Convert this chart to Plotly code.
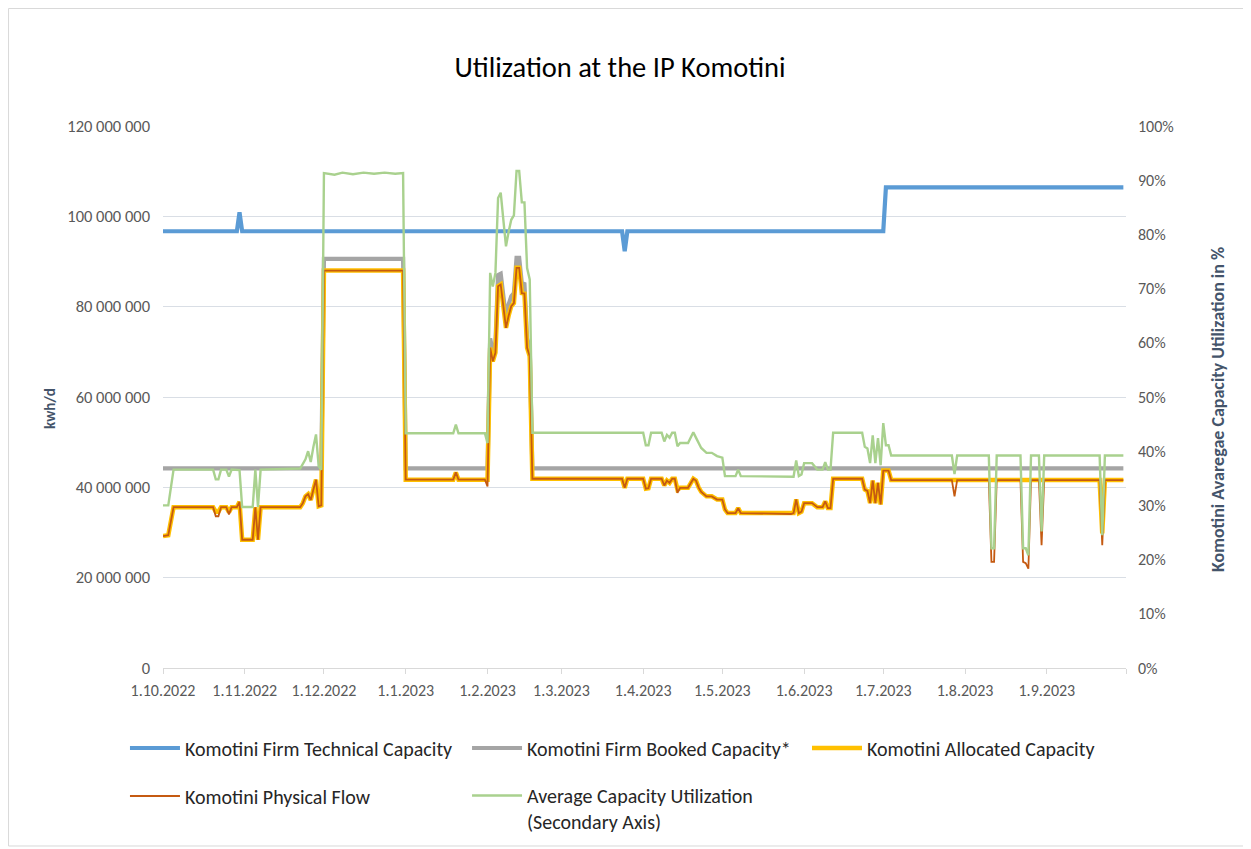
import plotly.graph_objects as go

# ---------------- data ----------------
# capacities / flows in million kWh/d, utilization in %
tech_pts = [
    ("2022-10-01", 96.7), ("2022-10-29", 96.7), ("2022-10-30", 100.9), ("2022-10-31", 96.7),
    ("2023-03-24", 96.7), ("2023-03-25", 92.3), ("2023-03-26", 96.7),
    ("2023-07-01", 96.7), ("2023-07-02", 106.4), ("2023-09-30", 106.4),
]

booked_pts = [
    ("2022-10-01", 44.2), ("2022-11-30", 44.2), ("2022-12-01", 90.6), ("2022-12-31", 90.6),
    ("2023-01-01", 44.2), ("2023-02-01", 44.2), ("2023-02-02", 73.0), ("2023-02-03", 70.0),
    ("2023-02-04", 72.0), ("2023-02-05", 87.0), ("2023-02-06", 87.3), ("2023-02-07", 82.3),
    ("2023-02-08", 77.5), ("2023-02-09", 80.5), ("2023-02-10", 82.3), ("2023-02-11", 83.0),
    ("2023-02-12", 90.8), ("2023-02-13", 90.8), ("2023-02-14", 85.2), ("2023-02-15", 85.0),
    ("2023-02-16", 73.0), ("2023-02-17", 71.0), ("2023-02-18", 44.2), ("2023-09-30", 44.2),
]

alloc_pts = [
    ("2022-10-01", 29.2), ("2022-10-03", 29.4), ("2022-10-05", 35.6), ("2022-10-20", 35.6),
    ("2022-10-21", 34.6), ("2022-10-22", 34.6), ("2022-10-23", 35.6), ("2022-10-25", 35.6),
    ("2022-10-26", 34.5), ("2022-10-27", 35.6), ("2022-10-29", 35.6), ("2022-10-30", 36.8),
    ("2022-10-31", 28.4), ("2022-11-04", 28.4), ("2022-11-05", 35.6), ("2022-11-06", 28.4),
    ("2022-11-07", 35.6), ("2022-11-22", 35.6), ("2022-11-23", 36.5), ("2022-11-24", 38.0),
    ("2022-11-25", 38.5), ("2022-11-26", 37.2), ("2022-11-27", 39.5), ("2022-11-28", 41.7),
    ("2022-11-29", 35.8), ("2022-11-30", 36.0), ("2022-12-01", 88.0), ("2022-12-31", 88.0),
    ("2023-01-01", 41.7), ("2023-01-19", 41.7), ("2023-01-20", 43.3), ("2023-01-21", 41.7),
    ("2023-02-01", 41.7), ("2023-02-02", 70.9), ("2023-02-03", 67.9), ("2023-02-04", 69.8),
    ("2023-02-05", 84.5), ("2023-02-06", 84.9), ("2023-02-07", 80.1), ("2023-02-08", 75.3),
    ("2023-02-09", 78.0), ("2023-02-10", 80.1), ("2023-02-11", 80.8), ("2023-02-12", 88.6),
    ("2023-02-13", 88.6), ("2023-02-14", 83.0), ("2023-02-15", 82.9), ("2023-02-16", 70.9),
    ("2023-02-17", 69.0), ("2023-02-18", 41.9), ("2023-03-24", 41.9), ("2023-03-25", 39.9),
    ("2023-03-26", 41.9), ("2023-04-01", 41.9), ("2023-04-02", 39.7), ("2023-04-03", 39.8),
    ("2023-04-04", 41.9), ("2023-04-08", 41.9), ("2023-04-09", 40.4), ("2023-04-10", 41.5),
    ("2023-04-11", 41.0), ("2023-04-12", 41.9), ("2023-04-13", 41.9), ("2023-04-14", 39.5),
    ("2023-04-15", 39.9), ("2023-04-18", 39.9), ("2023-04-20", 41.9), ("2023-04-21", 41.5),
    ("2023-04-22", 40.0), ("2023-04-23", 39.0), ("2023-04-25", 38.0), ("2023-04-27", 38.0),
    ("2023-04-29", 37.3), ("2023-05-01", 37.3), ("2023-05-02", 35.1), ("2023-05-03", 34.3),
    ("2023-05-06", 34.3), ("2023-05-07", 35.4), ("2023-05-08", 34.3), ("2023-05-27", 34.1),
    ("2023-05-28", 34.3), ("2023-05-29", 37.3), ("2023-05-30", 34.3), ("2023-05-31", 34.6),
    ("2023-06-01", 36.5), ("2023-06-04", 36.5), ("2023-06-06", 35.6), ("2023-06-08", 35.6),
    ("2023-06-09", 36.9), ("2023-06-10", 35.4), ("2023-06-11", 35.4), ("2023-06-12", 41.9),
    ("2023-06-23", 41.9), ("2023-06-24", 39.5), ("2023-06-25", 39.2), ("2023-06-26", 36.5),
    ("2023-06-27", 41.5), ("2023-06-28", 36.5), ("2023-06-29", 41.0), ("2023-06-30", 36.2),
    ("2023-07-01", 43.7), ("2023-07-03", 43.7), ("2023-07-04", 41.6), ("2023-09-21", 41.6),
    ("2023-09-22", 29.8), ("2023-09-23", 41.6), ("2023-09-30", 41.6),
]

flow_pts = [
    ("2022-10-01", 29.2), ("2022-10-03", 29.4), ("2022-10-05", 35.6), ("2022-10-20", 35.6),
    ("2022-10-21", 33.6), ("2022-10-22", 33.6), ("2022-10-23", 35.6), ("2022-10-25", 35.6),
    ("2022-10-26", 34.0), ("2022-10-27", 35.6), ("2022-10-29", 35.6), ("2022-10-30", 36.8),
    ("2022-10-31", 28.4), ("2022-11-04", 28.4), ("2022-11-05", 35.6), ("2022-11-06", 28.4),
    ("2022-11-07", 35.6), ("2022-11-22", 35.6), ("2022-11-23", 36.5), ("2022-11-24", 38.0),
    ("2022-11-25", 38.5), ("2022-11-26", 37.2), ("2022-11-27", 39.5), ("2022-11-28", 41.7),
    ("2022-11-29", 35.8), ("2022-11-30", 36.0), ("2022-12-01", 88.0), ("2022-12-31", 88.0),
    ("2023-01-01", 41.7), ("2023-01-19", 41.7), ("2023-01-20", 43.3), ("2023-01-21", 41.7),
    ("2023-01-31", 41.7), ("2023-02-01", 40.2), ("2023-02-02", 70.9), ("2023-02-03", 67.9),
    ("2023-02-04", 69.8), ("2023-02-05", 84.5), ("2023-02-06", 84.9), ("2023-02-07", 80.1),
    ("2023-02-08", 75.3), ("2023-02-09", 78.0), ("2023-02-10", 80.1), ("2023-02-11", 80.8),
    ("2023-02-12", 88.6), ("2023-02-13", 88.6), ("2023-02-14", 83.0), ("2023-02-15", 82.9),
    ("2023-02-16", 70.9), ("2023-02-17", 69.0), ("2023-02-18", 41.9), ("2023-03-24", 41.9),
    ("2023-03-25", 39.9), ("2023-03-26", 41.9), ("2023-04-01", 41.9), ("2023-04-02", 39.7),
    ("2023-04-03", 39.8), ("2023-04-04", 41.9), ("2023-04-08", 41.9), ("2023-04-09", 40.4),
    ("2023-04-10", 41.5), ("2023-04-11", 41.0), ("2023-04-12", 41.9), ("2023-04-13", 41.9),
    ("2023-04-14", 38.8), ("2023-04-15", 39.9), ("2023-04-18", 39.9), ("2023-04-20", 41.9),
    ("2023-04-21", 41.5), ("2023-04-22", 40.0), ("2023-04-23", 39.0), ("2023-04-25", 38.0),
    ("2023-04-27", 38.0), ("2023-04-29", 37.3), ("2023-05-01", 37.3), ("2023-05-02", 35.1),
    ("2023-05-03", 34.3), ("2023-05-06", 34.3), ("2023-05-07", 35.4), ("2023-05-08", 34.3),
    ("2023-05-27", 34.1), ("2023-05-28", 34.3), ("2023-05-29", 37.3), ("2023-05-30", 34.3),
    ("2023-05-31", 34.6), ("2023-06-01", 36.5), ("2023-06-04", 36.5), ("2023-06-06", 35.6),
    ("2023-06-08", 35.6), ("2023-06-09", 36.9), ("2023-06-10", 35.4), ("2023-06-11", 35.4),
    ("2023-06-12", 41.9), ("2023-06-23", 41.9), ("2023-06-24", 39.5), ("2023-06-25", 39.2),
    ("2023-06-26", 36.5), ("2023-06-27", 41.5), ("2023-06-28", 36.5), ("2023-06-29", 41.0),
    ("2023-06-30", 36.2), ("2023-07-01", 43.7), ("2023-07-03", 43.7), ("2023-07-04", 41.6),
    ("2023-07-27", 41.6), ("2023-07-28", 38.0), ("2023-07-29", 41.6), ("2023-08-10", 41.6),
    ("2023-08-11", 23.5), ("2023-08-12", 23.5), ("2023-08-13", 41.6), ("2023-08-22", 41.6),
    ("2023-08-23", 23.5), ("2023-08-24", 23.2), ("2023-08-25", 22.0), ("2023-08-26", 41.6),
    ("2023-08-29", 41.6), ("2023-08-30", 27.2), ("2023-08-31", 41.6), ("2023-09-21", 41.6),
    ("2023-09-22", 27.2), ("2023-09-23", 41.6), ("2023-09-30", 41.6),
]

util_pts = [
    ("2022-10-01", 30.0), ("2022-10-03", 30.0), ("2022-10-05", 36.6), ("2022-10-20", 36.6),
    ("2022-10-21", 34.8), ("2022-10-22", 34.8), ("2022-10-23", 36.6), ("2022-10-25", 36.6),
    ("2022-10-26", 35.3), ("2022-10-27", 36.6), ("2022-10-30", 36.5), ("2022-10-31", 29.7),
    ("2022-11-04", 29.7), ("2022-11-05", 36.6), ("2022-11-06", 29.7), ("2022-11-07", 36.6),
    ("2022-11-22", 36.8), ("2022-11-23", 37.8), ("2022-11-24", 38.5), ("2022-11-25", 40.0),
    ("2022-11-26", 38.0), ("2022-11-27", 40.8), ("2022-11-28", 43.1), ("2022-11-29", 37.2),
    ("2022-11-30", 36.6), ("2022-12-01", 91.3), ("2022-12-05", 91.0), ("2022-12-08", 91.4),
    ("2022-12-12", 91.1), ("2022-12-16", 91.4), ("2022-12-20", 91.2), ("2022-12-24", 91.4),
    ("2022-12-28", 91.2), ("2022-12-31", 91.3), ("2023-01-01", 43.3), ("2023-01-19", 43.3),
    ("2023-01-20", 44.9), ("2023-01-21", 43.3), ("2023-01-31", 43.3), ("2023-02-01", 41.5),
    ("2023-02-02", 72.9), ("2023-02-03", 70.4), ("2023-02-04", 72.9), ("2023-02-05", 86.7),
    ("2023-02-06", 87.7), ("2023-02-07", 82.7), ("2023-02-08", 77.8), ("2023-02-09", 80.5),
    ("2023-02-10", 82.7), ("2023-02-11", 83.5), ("2023-02-12", 91.7), ("2023-02-13", 91.7),
    ("2023-02-14", 85.9), ("2023-02-15", 85.9), ("2023-02-16", 73.8), ("2023-02-17", 71.7),
    ("2023-02-18", 43.4), ("2023-04-01", 43.4), ("2023-04-02", 41.1), ("2023-04-03", 41.1),
    ("2023-04-04", 43.4), ("2023-04-08", 43.4), ("2023-04-09", 41.8), ("2023-04-10", 43.0),
    ("2023-04-11", 42.5), ("2023-04-12", 43.4), ("2023-04-13", 43.4), ("2023-04-14", 40.9),
    ("2023-04-15", 41.5), ("2023-04-18", 41.5), ("2023-04-20", 43.5), ("2023-04-21", 42.5),
    ("2023-04-22", 41.4), ("2023-04-23", 40.6), ("2023-04-25", 39.7), ("2023-04-27", 39.7),
    ("2023-04-29", 39.1), ("2023-05-01", 38.8), ("2023-05-02", 35.4), ("2023-05-06", 35.4),
    ("2023-05-07", 36.6), ("2023-05-08", 35.4), ("2023-05-28", 35.3), ("2023-05-29", 38.3),
    ("2023-05-30", 35.4), ("2023-05-31", 35.7), ("2023-06-01", 37.8), ("2023-06-04", 37.8),
    ("2023-06-06", 36.6), ("2023-06-08", 36.6), ("2023-06-09", 38.0), ("2023-06-10", 36.6),
    ("2023-06-11", 36.6), ("2023-06-12", 43.4), ("2023-06-23", 43.4), ("2023-06-24", 40.8),
    ("2023-06-25", 40.5), ("2023-06-26", 37.8), ("2023-06-27", 42.9), ("2023-06-28", 37.8),
    ("2023-06-29", 42.4), ("2023-06-30", 37.4), ("2023-07-01", 45.2), ("2023-07-02", 41.1),
    ("2023-07-03", 41.1), ("2023-07-04", 39.2), ("2023-07-27", 39.2), ("2023-07-28", 35.8),
    ("2023-07-29", 39.2), ("2023-08-10", 39.2), ("2023-08-11", 22.1), ("2023-08-12", 22.1),
    ("2023-08-13", 39.2), ("2023-08-22", 39.2), ("2023-08-23", 22.1), ("2023-08-24", 22.1),
    ("2023-08-25", 20.8), ("2023-08-26", 39.2), ("2023-08-29", 39.2), ("2023-08-30", 25.2),
    ("2023-08-31", 39.2), ("2023-09-21", 39.2), ("2023-09-22", 24.5), ("2023-09-23", 39.2),
    ("2023-09-30", 39.2),
]

month_ticks = ["2022-10-01", "2022-11-01", "2022-12-01", "2023-01-01", "2023-02-01", "2023-03-01",
               "2023-04-01", "2023-05-01", "2023-06-01", "2023-07-01", "2023-08-01", "2023-09-01",
               "2023-10-01"]
month_labels = ["1.10.2022", "1.11.2022", "1.12.2022", "1.1.2023", "1.2.2023", "1.3.2023",
                "1.4.2023", "1.5.2023", "1.6.2023", "1.7.2023", "1.8.2023", "1.9.2023", ""]

left_tick_vals = [0, 20e6, 40e6, 60e6, 80e6, 100e6, 120e6]
left_tick_labels = ["0", "20 000 000", "40 000 000", "60 000 000", "80 000 000",
                    "100 000 000", "120 000 000"]
right_tick_vals = [0, 10, 20, 30, 40, 50, 60, 70, 80, 90, 100]
right_tick_labels = ["0%", "10%", "20%", "30%", "40%", "50%", "60%", "70%", "80%", "90%", "100%"]

series_names = ["Komotini Firm Technical Capacity", "Komotini Firm Booked Capacity*",
                "Komotini Allocated Capacity", "Komotini Physical Flow",
                "Average Capacity Utilization<br>(Secondary Axis)"]


def dates(pts):
    return [p[0] for p in pts]


def mkwh(pts):
    return [p[1] * 1e6 for p in pts]


FONT = "Calibri, Lato, 'Open Sans', sans-serif"
W, H = 1243, 841   # page body adds an 8px margin -> fills the 1251x849 window

fig = go.Figure()
fig.add_trace(go.Scatter(x=dates(tech_pts), y=mkwh(tech_pts), mode="lines", name=series_names[0],
                         line=dict(color="#5B9BD5", width=4.2), legend="legend"))
fig.add_trace(go.Scatter(x=dates(booked_pts), y=mkwh(booked_pts), mode="lines", name=series_names[1],
                         line=dict(color="#A5A5A5", width=4.2), legend="legend2"))
fig.add_trace(go.Scatter(x=dates(alloc_pts), y=mkwh(alloc_pts), mode="lines", name=series_names[2],
                         line=dict(color="#FFC000", width=4.5), legend="legend3"))
fig.add_trace(go.Scatter(x=dates(flow_pts), y=mkwh(flow_pts), mode="lines", name=series_names[3],
                         line=dict(color="#C55A11", width=1.8), legend="legend4"))
fig.add_trace(go.Scatter(x=dates(util_pts), y=[p[1] for p in util_pts], mode="lines",
                         name=series_names[4], yaxis="y2",
                         line=dict(color="#A9D18E", width=2.4), legend="legend5"))

legend_common = dict(orientation="h", xref="container", yref="container", xanchor="left",
                     itemwidth=50,
                     font=dict(size=20, color="#262626", family=FONT), bgcolor="rgba(0,0,0,0)")

axis_title_font = dict(color="#44546A", family=FONT)

fig.update_layout(
    width=W, height=H,
    margin=dict(l=155, r=125, t=118, b=181, autoexpand=False),
    paper_bgcolor="white", plot_bgcolor="white",
    font=dict(family=FONT, color="#595959", size=16),
    title=dict(text="Utilization at the IP Komotini", xref="container", x=0.4924, xanchor="center",
               yref="container", y=0.9298, yanchor="middle",
               font=dict(size=28.5, color="#000000", family=FONT)),
    xaxis=dict(type="date", range=["2022-10-01", "2023-10-01"], tickvals=month_ticks,
               ticktext=month_labels, ticks="outside", ticklen=5, tickcolor="#D9D9D9",
               showline=True, linecolor="#D9D9D9", linewidth=1, showgrid=False, zeroline=False,
               ticklabelstandoff=3, tickfont=dict(size=16, color="#595959")),
    yaxis=dict(range=[0, 120e6], tickvals=left_tick_vals, ticktext=left_tick_labels,
               showgrid=True, gridcolor="#D9DEE5", gridwidth=1, zeroline=False, showline=False,
               ticks="", ticklabelstandoff=12, tickfont=dict(size=16.5, color="#595959")),
    yaxis2=dict(range=[0, 100], tickvals=right_tick_vals, ticktext=right_tick_labels,
                overlaying="y", side="right", showgrid=False, zeroline=False, showline=False,
                ticks="", ticklabelstandoff=11, tickfont=dict(size=16, color="#595959")),
    legend=dict(x=0.0941, y=0.1201, yanchor="middle", **legend_common),
    legend2=dict(x=0.3693, y=0.1201, yanchor="middle", **legend_common),
    legend3=dict(x=0.6428, y=0.1201, yanchor="middle", **legend_common),
    legend4=dict(x=0.0941, y=0.0630, yanchor="middle", **legend_common),
    legend5=dict(x=0.3693, y=0.0868, yanchor="top", valign="top", **legend_common),
    annotations=[
        dict(text="<b>kwh/d</b>", xref="paper", yref="paper", x=-0.1173, y=0.4779,
             xanchor="center", yanchor="middle", textangle=-90, showarrow=False,
             font=dict(size=15, **axis_title_font)),
        dict(text="<b>Komotini Avaregae Capacity Utilization in %</b>", xref="paper", yref="paper",
             x=1.0955, y=0.4779, xanchor="center", yanchor="middle", textangle=-90,
             showarrow=False, font=dict(size=18, **axis_title_font)),
    ],
    shapes=[dict(type="rect", xref="paper", yref="paper", x0=-0.1604, x1=1.1267,
                 y0=-0.3284, y1=1.2168, line=dict(color="#D9D9D9", width=1),
                 fillcolor="rgba(0,0,0,0)", layer="below")],
    showlegend=True,
)

fig.write_html("out.html")
